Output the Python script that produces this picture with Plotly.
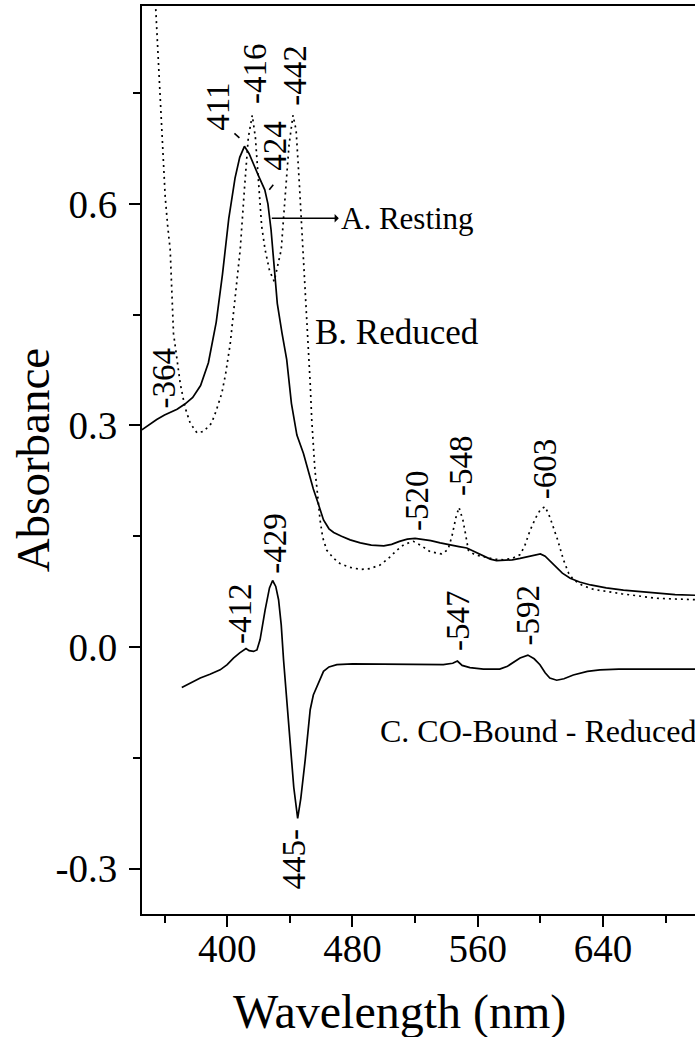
import numpy as np
import plotly.graph_objects as go

# ---- spectra (wavelength in nm, absorbance) ----
wl_resting = [345.5, 350, 355, 360, 364, 368, 373, 378, 383, 388, 393, 397, 401, 405, 408,
              411, 414, 417, 420, 424, 426, 428, 430, 432, 435, 438, 441, 444.5, 448.7, 452,
              455, 458, 461.5, 465, 468, 473, 478.5, 485, 492, 500, 505, 510, 515, 520, 525,
              530, 536, 542, 548, 553, 558, 563, 568, 572, 577, 582, 587, 592, 597, 600, 603,
              606, 610, 614, 619, 625, 632, 642, 653, 664, 674, 686, 699]
abs_resting = [0.294, 0.301, 0.308, 0.314, 0.318, 0.322, 0.329, 0.338, 0.354, 0.385, 0.440,
               0.505, 0.580, 0.635, 0.663, 0.678, 0.668, 0.652, 0.638, 0.619, 0.600, 0.565,
               0.510, 0.465, 0.425, 0.389, 0.330, 0.287, 0.262, 0.235, 0.214, 0.195, 0.172,
               0.160, 0.155, 0.150, 0.145, 0.141, 0.138, 0.137, 0.139, 0.143, 0.146, 0.147,
               0.146, 0.144, 0.141, 0.138, 0.136, 0.134, 0.129, 0.124, 0.119, 0.117, 0.117,
               0.118, 0.120, 0.122, 0.125, 0.126, 0.123, 0.117, 0.109, 0.100, 0.093, 0.088,
               0.084, 0.080, 0.077, 0.075, 0.073, 0.071, 0.070]

wl_reduced = [354, 356, 358, 360.4, 362, 363.6, 365.7, 370, 373, 376.4, 380.7, 385, 390, 393,
              396.6, 399, 401.9, 405, 408.3, 411, 413.5, 416, 418, 420, 422, 424.2, 427, 430,
              432.8, 434.5, 437, 439.5, 442, 444, 446, 448.5, 450.8, 453, 454, 456, 457.2,
              459.3, 461, 463.6, 468, 472, 478, 485, 491, 497.6, 503, 508.3, 513, 518.9, 524,
              529.6, 537, 541, 543.5, 546, 548, 550.5, 552, 554, 558, 563.6, 570, 576.3, 582,
              587, 590, 593.4, 597, 600, 603, 606, 608.3, 611, 614.7, 618, 621.1, 627, 634,
              642, 652, 663, 674, 686, 699]
abs_reduced = [0.880, 0.800, 0.710, 0.610, 0.570, 0.538, 0.425, 0.357, 0.325, 0.303, 0.290,
               0.292, 0.303, 0.320, 0.344, 0.370, 0.410, 0.470, 0.538, 0.620, 0.690, 0.720,
               0.690, 0.630, 0.570, 0.538, 0.510, 0.495, 0.520, 0.538, 0.610, 0.680, 0.720,
               0.700, 0.630, 0.538, 0.447, 0.357, 0.307, 0.240, 0.217, 0.172, 0.148, 0.131,
               0.120, 0.113, 0.108, 0.105, 0.106, 0.111, 0.120, 0.131, 0.139, 0.143, 0.137,
               0.129, 0.126, 0.132, 0.150, 0.175, 0.189, 0.172, 0.155, 0.131, 0.125, 0.122,
               0.119, 0.118, 0.120, 0.125, 0.137, 0.158, 0.175, 0.186, 0.190, 0.176, 0.163,
               0.145, 0.118, 0.100, 0.091, 0.083, 0.078, 0.075, 0.072, 0.069, 0.066, 0.065,
               0.064]

wl_co = [371, 377, 382.8, 389, 395.5, 400, 404, 408, 411, 412, 414, 416.8, 419, 421, 424.2,
         427, 429, 431, 432.8, 434.5, 436, 438, 440.2, 442.5, 445, 447, 449.8, 453, 455,
         457.2, 461.5, 465, 470, 480, 490, 500, 510, 520, 530, 538, 544, 547, 550, 555,
         563.6, 574, 579, 583, 587, 592, 596, 599.7, 603, 606, 610.4, 615, 621, 630, 638,
         650, 670, 699]
abs_co = [-0.055, -0.048, -0.042, -0.037, -0.031, -0.024, -0.015, -0.008, -0.003, -0.002,
          -0.005, -0.006, -0.004, 0.010, 0.050, 0.080, 0.090, 0.082, 0.064, 0.030, -0.018,
          -0.070, -0.130, -0.190, -0.232, -0.205, -0.153, -0.085, -0.065, -0.054, -0.033,
          -0.027, -0.024, -0.023, -0.023, -0.023, -0.024, -0.024, -0.024, -0.024, -0.022,
          -0.019, -0.025, -0.028, -0.030, -0.030, -0.026, -0.020, -0.015, -0.011, -0.016,
          -0.024, -0.035, -0.042, -0.045, -0.043, -0.038, -0.033, -0.031, -0.030, -0.030,
          -0.030]

# peak / shoulder wavelengths that get a label
peaks_resting = [364, 411, 424, 520]
peaks_reduced = [416, 442, 548, 603]
peaks_co = [412, 429, 445, 547, 592]

# axis ticks
x_ticks = [400, 480, 560, 640]
y_ticks = [-0.3, 0.0, 0.3, 0.6]
y_tick_text = ["-0.3", "0.0", "0.3", "0.6"]

FONT = "Liberation Serif"

fig = go.Figure()
fig.add_trace(go.Scatter(x=wl_resting, y=abs_resting, mode="lines",
                         line=dict(color="black", width=1.7), name="A. Resting"))
fig.add_trace(go.Scatter(x=wl_reduced, y=abs_reduced, mode="lines",
                         line=dict(color="black", width=1.7, dash="2px,4px"), name="B. Reduced"))
fig.add_trace(go.Scatter(x=wl_co, y=abs_co, mode="lines",
                         line=dict(color="black", width=1.7), name="C. CO-Bound - Reduced"))

# label text and pixel offset from the labelled point (xshift, yshift, anchor)
label_style = {
    364: ("-364", -7, 2, "bottom"),
    411: ("411", -26, 14, "bottom"),
    424: ("424", 10, 17, "bottom"),
    520: ("-520", 2, 5, "bottom"),
    416: ("-416", 3, 9, "bottom"),
    442: ("-442", 2, 8, "bottom"),
    548: ("-548", 2, 10, "bottom"),
    603: ("-603", 0, 5, "bottom"),
    412: ("-412", -6, 3, "bottom"),
    429: ("-429", 2, 5, "bottom"),
    445: ("445-", -4, -8, "top"),
    547: ("-547", 0, 8, "bottom"),
    592: ("-592", 0, 8, "bottom"),
}

annotations = []
for peaks, wl, ab in [(peaks_resting, wl_resting, abs_resting),
                      (peaks_reduced, wl_reduced, abs_reduced),
                      (peaks_co, wl_co, abs_co)]:
    for p in peaks:
        text, dx, dy, anchor = label_style[p]
        annotations.append(dict(
            x=p, y=float(np.interp(p, wl, ab)), xref="x", yref="y",
            text=text, showarrow=False, textangle=-90,
            xanchor="center", yanchor=anchor, xshift=dx, yshift=dy,
            font=dict(family=FONT, size=33, color="black")))

# curve names
annotations.append(dict(x=428.5, y=0.5805, xref="x", yref="y", text="A. Resting",
                        showarrow=True, arrowside="start", arrowhead=2, arrowsize=1.1,
                        arrowwidth=1.4, arrowcolor="black", axref="pixel", ayref="pixel",
                        ax=67, ay=0, xanchor="left", yanchor="middle",
                        font=dict(family=FONT, size=31, color="black")))
annotations.append(dict(x=454.9, y=0.4265, xref="x", yref="y", text="B. Reduced",
                        showarrow=False, xanchor="left", yanchor="middle",
                        font=dict(family=FONT, size=35, color="black")))
annotations.append(dict(x=496.4, y=-0.114, xref="x", yref="y", text="C. CO-Bound - Reduced",
                        showarrow=False, xanchor="left", yanchor="middle",
                        font=dict(family=FONT, size=32, color="black")))

# axis titles
annotations.append(dict(x=0.465, y=-0.108, xref="paper", yref="paper",
                        text="Wavelength (nm)", showarrow=False,
                        xanchor="center", yanchor="middle",
                        font=dict(family=FONT, size=48, color="black")))
annotations.append(dict(x=-0.1965, y=0.5, xref="paper", yref="paper",
                        text="Absorbance", showarrow=False, textangle=-90,
                        xanchor="center", yanchor="middle",
                        font=dict(family=FONT, size=47, color="black")))

# short leader strokes beside the 411 and 424 labels
shapes = []
for p, (x0, y0, x1, y1) in [(411, (-10, 13, -5, 8.5)), (424, (4.5, 0, 8.5, 5))]:
    shapes.append(dict(type="line", xref="x", yref="y",
                       xsizemode="pixel", ysizemode="pixel",
                       xanchor=p, yanchor=float(np.interp(p, wl_resting, abs_resting)),
                       x0=x0, x1=x1, y0=y0, y1=y1,
                       line=dict(color="black", width=1.6)))

fig.update_layout(
    width=695, height=1037,
    margin=dict(l=142, r=0, t=6, b=123),
    paper_bgcolor="white", plot_bgcolor="white",
    showlegend=False,
    annotations=annotations,
    shapes=shapes,
    font=dict(family=FONT, color="black"),
)
fig.update_xaxes(
    range=[345.6, 698.7], tickmode="array", tickvals=x_ticks,
    ticks="outside", ticklen=11, tickwidth=2,
    tickcolor="black", showline=True, linewidth=2, linecolor="black", mirror=True,
    showgrid=False, zeroline=False, ticklabelstandoff=-12,
    tickfont=dict(family=FONT, size=39, color="black"),
    minor=dict(ticks="outside", ticklen=7, tickwidth=2, tickcolor="black",
               tick0=360, dtick=40, showgrid=False),
)
fig.update_yaxes(
    range=[-0.3616, 0.868], tickmode="array", tickvals=y_ticks, ticktext=y_tick_text,
    ticks="outside", ticklen=11, tickwidth=2,
    tickcolor="black", showline=True, linewidth=2, linecolor="black", mirror=False,
    showgrid=False, zeroline=False, ticklabelstandoff=4,
    tickfont=dict(family=FONT, size=39, color="black"),
    minor=dict(ticks="outside", ticklen=7, tickwidth=2, tickcolor="black",
               tick0=0.15, dtick=0.3, showgrid=False),
)

fig.write_html("out.html")
